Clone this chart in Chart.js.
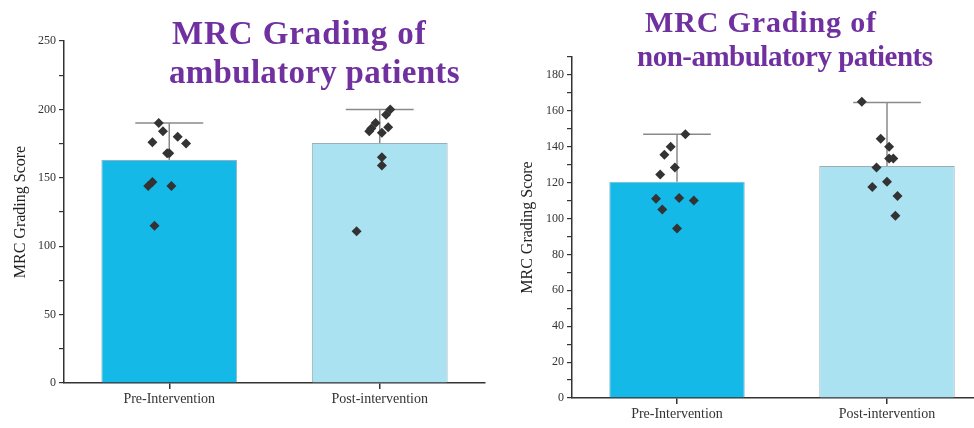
<!DOCTYPE html>
<html>
<head>
<meta charset="utf-8">
<script src="https://cdn.jsdelivr.net/npm/chart.js@4.4.1/dist/chart.umd.min.js"></script>
<style>
  html, body { margin:0; padding:0; background:#fff; width:974px; height:428px; overflow:hidden; position:relative; }
  .wrap { position:absolute; top:0; }
  .ttl { position:absolute; font-family:"Liberation Serif","Times New Roman",serif; font-weight:bold; color:#7030a0; line-height:1; white-space:nowrap; }
</style>
</head>
<body>
<div class="wrap" style="left:0px;width:495px;height:428px;"><canvas id="c1" width="495" height="428"></canvas></div>
<div class="wrap" style="left:500px;width:500px;height:428px;"><canvas id="c2" width="500" height="428"></canvas></div>
<div class="ttl" style="left:172px;top:17px;font-size:33px;letter-spacing:0.9px;">MRC Grading of</div>
<div class="ttl" style="left:169px;top:56px;font-size:33px;letter-spacing:0.3px;">ambulatory patients</div>
<div class="ttl" style="left:645px;top:7px;font-size:30px;letter-spacing:0.85px;">MRC Grading of</div>
<div class="ttl" style="left:637px;top:42px;font-size:29px;letter-spacing:-0.5px;">non-ambulatory patients</div>
<script>
const categories = ['Pre-Intervention', 'Post-intervention'];

// Ambulatory patients
const ambMeans = [163, 175.5];
const ambSD = [27, 24.5];
const ambPre = [190, 184, 176, 180, 175, 168, 168, 147, 144, 144, 115];
const ambPreJitter = [-0.05, -0.03, -0.08, 0.04, 0.08, -0.01, 0.0, -0.08, -0.10, 0.01, -0.07];
const ambPost = [200, 196, 190, 186, 184, 187, 183, 165, 159, 111];
const ambPostJitter = [0.05, 0.03, -0.02, -0.04, -0.05, 0.04, 0.01, 0.01, 0.01, -0.11];
const ambTicks = { max: 250, step: 25, labelEvery: 50 };

// Non-ambulatory patients
const nonMeans = [120.5, 129.2];
const nonSD = [26.5, 35.5];
const nonPre = [147, 140, 135.5, 128.5, 124.5, 111, 111.5, 110, 105, 94.5];
const nonPreJitter = [0.04, -0.03, -0.06, -0.01, -0.08, -0.10, 0.01, 0.08, -0.07, 0.0];
const nonPost = [165, 144.5, 140, 133.5, 133.5, 128.5, 120.5, 117.5, 112.5, 101.5];
const nonPostJitter = [-0.12, -0.03, 0.01, 0.01, 0.03, -0.05, 0.0, -0.07, 0.05, 0.04];
const nonTicks = { max: 190, step: 10, labelEvery: 20 };

const errorBars = {
  id: 'errorBars',
  afterDatasetDraw(chart, args, opts) {
    if (args.index !== 0) return;
    const ctx = chart.ctx;
    const meta = chart.getDatasetMeta(0);
    const ys = chart.scales.y;
    const means = chart.data.datasets[0].data;
    ctx.save();
    ctx.strokeStyle = '#8a8a8a';
    ctx.lineWidth = 1.5;
    meta.data.forEach((bar, i) => {
      const top = ys.getPixelForValue(means[i] + opts.sd[i]);
      const half = bar.width * 0.25;
      ctx.beginPath();
      ctx.moveTo(bar.x, bar.y);
      ctx.lineTo(bar.x, top);
      ctx.moveTo(bar.x - half, top);
      ctx.lineTo(bar.x + half, top);
      ctx.stroke();
    });
    ctx.restore();
  }
};

function pts(vals, jit, idx) {
  return vals.map((v, i) => ({ x: idx + jit[i], y: v }));
}

function makeChart(id, means, sd, pre, preJ, post, postJ, tk, geom) {
  const serif = '"Liberation Serif","Times New Roman",serif';
  return new Chart(document.getElementById(id), {
    type: 'bar',
    data: {
      labels: categories,
      datasets: [
        {
          type: 'bar',
          data: means,
          backgroundColor: ['#14b9e8', '#aae2f1'],
          borderColor: ['rgba(60,130,160,0.6)', 'rgba(110,140,150,0.7)'],
          borderWidth: 1,
          barPercentage: 0.645,
          categoryPercentage: 1.0,
          grouped: false,
          xAxisID: 'x',
          order: 2
        },
        {
          type: 'scatter',
          data: pts(pre, preJ, 0).concat(pts(post, postJ, 1)),
          pointStyle: 'rectRot',
          pointRadius: 5,
          backgroundColor: '#333333',
          borderColor: '#333333',
          borderWidth: 0,
          xAxisID: 'xs',
          order: 1
        }
      ]
    },
    options: {
      responsive: false,
      animation: false,
      events: [],
      layout: { padding: { left: 0, top: geom.top, right: geom.right, bottom: 0 } },
      plugins: { legend: { display: false }, tooltip: { enabled: false }, errorBars: { sd: sd } },
      scales: {
        x: {
          type: 'category',
          offset: true,
          grid: { display: true, drawOnChartArea: false, drawTicks: true, tickLength: 6, offset: false, color: '#333', lineWidth: 1.5 },
          border: { display: true, color: '#333', width: 1.5 },
          ticks: { color: '#333', font: { family: serif, size: 14 }, padding: 2, maxRotation: 0 },
          afterFit(s) { s.height = geom.xh; }
        },
        xs: {
          type: 'linear',
          display: false,
          offset: false,
          grid: { offset: false },
          min: -0.5,
          max: 1.5
        },
        y: {
          min: 0,
          max: tk.max,
          grid: { display: true, drawOnChartArea: false, drawTicks: true, tickLength: 5, color: '#333', lineWidth: 1.2 },
          border: { display: true, color: '#333', width: 1.5 },
          ticks: {
            stepSize: tk.step,
            autoSkip: false,
            color: '#333',
            padding: 3,
            font: { family: serif, size: geom.tickSize },
            callback: (v) => (v % tk.labelEvery === 0 ? v : '')
          },
          title: {
            display: true,
            text: 'MRC Grading Score',
            color: '#222',
            font: { family: serif, size: 16 },
            padding: { top: geom.titlePad, bottom: 0 }
          },
          afterFit(s) { s.width = geom.yw; }
        }
      }
    },
    plugins: [errorBars]
  });
}

makeChart('c1', ambMeans, ambSD, ambPre, ambPreJitter, ambPost, ambPostJitter, ambTicks,
  { top: 41, right: 10, xh: 45, yw: 64, tickSize: 12, titlePad: 11 });
makeChart('c2', nonMeans, nonSD, nonPre, nonPreJitter, nonPost, nonPostJitter, nonTicks,
  { top: 57, right: 8, xh: 30, yw: 72, tickSize: 12, titlePad: 18 });
</script>
</body>
</html>
